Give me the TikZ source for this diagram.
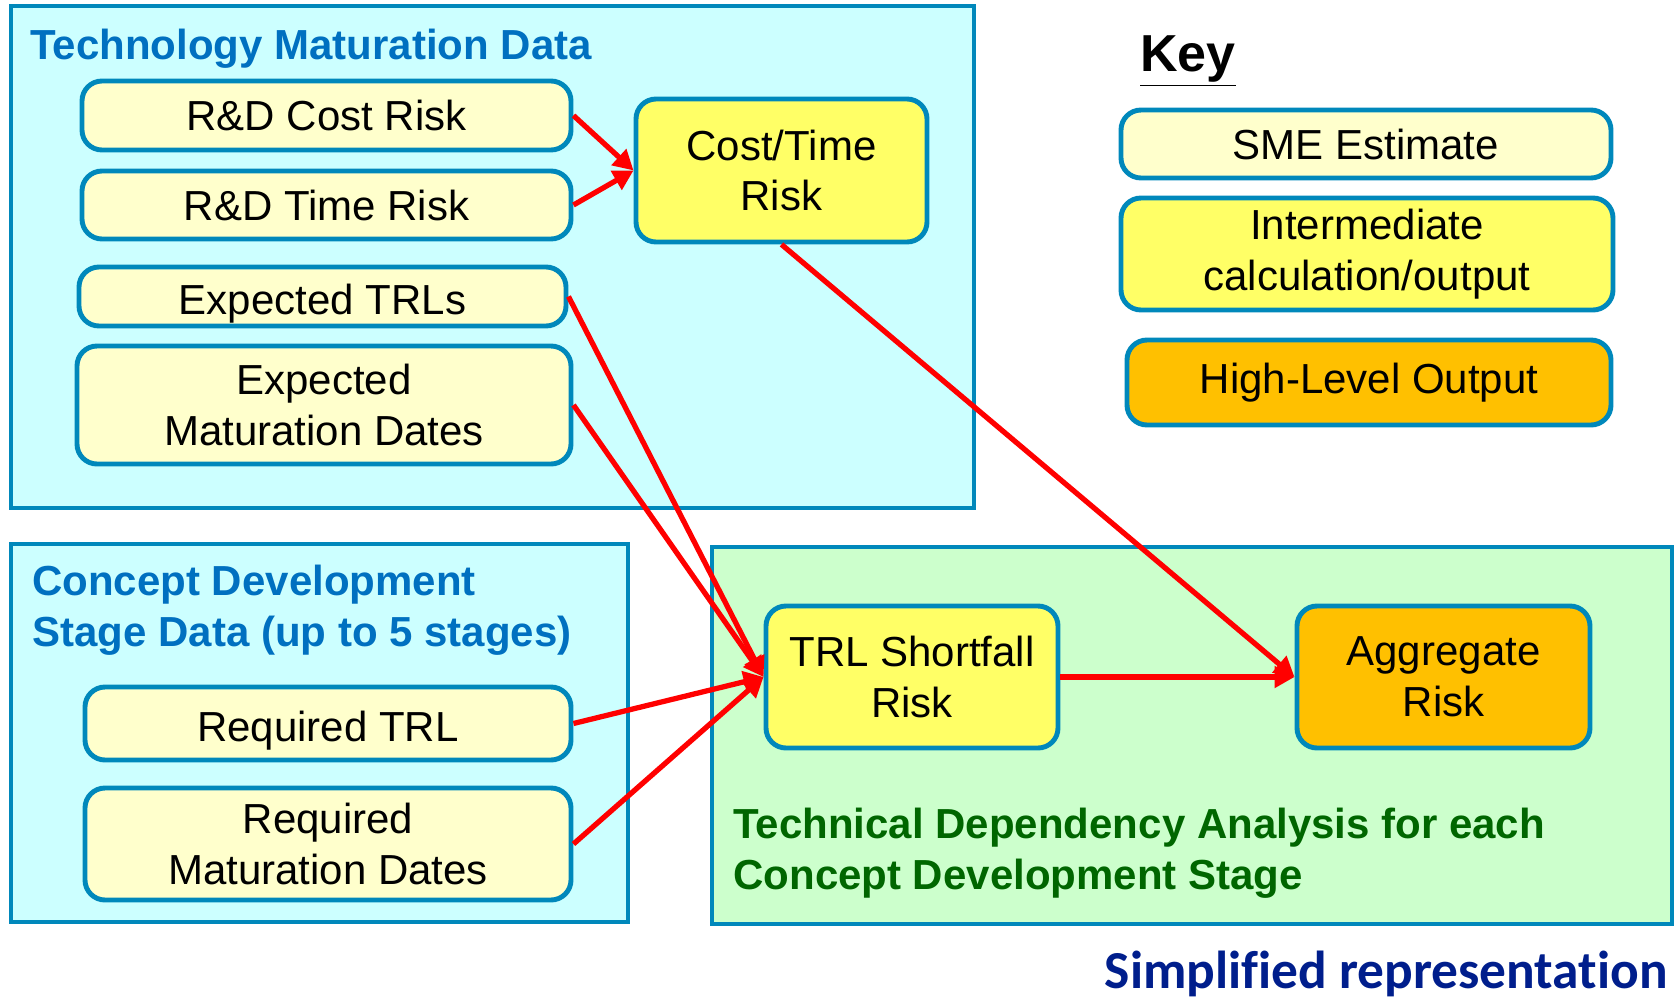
\documentclass[tikz,border=0pt]{standalone}
\usepackage{fontspec}
\setmainfont{Liberation Sans}
\newfontfamily\calibri[Ligatures=NoCommon]{Carlito}
\usetikzlibrary{arrows.meta}

\definecolor{edgeblue}{RGB}{0,136,187}
\definecolor{panelcyan}{RGB}{204,255,255}
\definecolor{panelgreen}{RGB}{204,255,204}
\definecolor{smeyellow}{RGB}{255,255,204}
\definecolor{interyellow}{RGB}{255,255,102}
\definecolor{highorange}{RGB}{255,192,0}
\definecolor{titleblue}{RGB}{0,112,192}
\definecolor{titlegreen}{RGB}{0,102,0}
\definecolor{notenavy}{RGB}{0,30,140}

\tikzset{
  panel/.style={draw=edgeblue, line width=2.2pt},
  box/.style={draw=edgeblue, line width=2.8pt, rounded corners=0.4cm, align=center,
    inner sep=0pt, font=\fontsize{23.9}{29}\selectfont},
  sme/.style={box, fill=smeyellow},
  inter/.style={box, fill=interyellow},
  high/.style={box, fill=highorange},
  lowtext/.style={text height=0.9cm, text depth=0.18cm},
  flow/.style={red, line width=3pt, -{Triangle[length=0.4cm, width=0.42cm]}},
  paneltitle/.style={anchor=west, align=left, inner sep=0pt,
    font=\bfseries\fontsize{23.9}{29}\selectfont}
}

\begin{document}
\begin{tikzpicture}
  \useasboundingbox (0, 0) rectangle (33.5, -20.06);

  % panels
  \draw[panel, fill=panelcyan] (0.22, -0.12) rectangle (19.48, -10.16);
  \draw[panel, fill=panelcyan] (0.22, -10.88) rectangle (12.56, -18.44);
  \draw[panel, fill=panelgreen] (14.24, -10.94) rectangle (33.44, -18.48);

  \node[paneltitle, titleblue] (techtitle) at (0.6, -0.98) {Technology Maturation Data};
  \node[paneltitle, titleblue] (cdstitle) at (0.64, -12.2)
    {Concept Development\\Stage Data (up to 5 stages)};
  \node[paneltitle, titlegreen] (tdatitle) at (14.66, -17.06)
    {Technical Dependency Analysis for each\\Concept Development Stage};

  % inputs
  \node[sme, minimum width=9.78cm, minimum height=1.38cm] (rdcost) at (6.53, -2.31) {R\&D Cost Risk};
  \node[sme, minimum width=9.78cm, minimum height=1.36cm] (rdtime) at (6.53, -4.10) {R\&D Time Risk};
  \node[sme, lowtext, minimum width=9.74cm, minimum height=1.18cm] (exptrl) at (6.45, -5.93) {Expected TRLs};
  \node[sme, minimum width=9.88cm, minimum height=2.36cm] (expdate) at (6.48, -8.10) {Expected\\Maturation Dates};
  \node[sme, lowtext, minimum width=9.72cm, minimum height=1.46cm] (reqtrl) at (6.56, -14.47) {Required TRL};
  \node[sme, minimum width=9.72cm, minimum height=2.24cm] (reqdate) at (6.56, -16.88) {Required\\Maturation Dates};

  % calculations
  \node[inter, minimum width=5.82cm, minimum height=2.86cm] (costtime) at (15.63, -3.41) {Cost/Time\\Risk};
  \node[inter, minimum width=5.84cm, minimum height=2.84cm] (shortfall) at (18.24, -13.54) {TRL Shortfall\\Risk};
  \node[high, minimum width=5.86cm, minimum height=2.84cm] (aggregate) at (28.87, -13.54) {Aggregate\\Risk};

  % key
  \node[anchor=west, inner sep=0pt, font=\bfseries\fontsize{29.6}{34}\selectfont] (keytitle) at (22.8, -1.22) {\underline{Key}};
  \node[sme, minimum width=9.8cm, minimum height=1.36cm] (keysme) at (27.32, -2.88) {SME Estimate};
  \node[inter, minimum width=9.84cm, minimum height=2.24cm] (keyinter) at (27.34, -5.08) {Intermediate\\calculation/output};
  \node[high, minimum width=9.68cm, minimum height=1.70cm] (keyhigh) at (27.38, -7.65) {High-Level Output};

  \node[anchor=east, inner sep=0pt, notenavy, font=\calibri\bfseries\fontsize{30.4}{36}\selectfont] (note)
    at (33.36, -19.48) {Simplified representation};

  % flows
  \draw[flow] (rdcost.east) -- (costtime.west);
  \draw[flow] (rdtime.east) -- (costtime.west);
  \draw[flow] (exptrl.east) -- (shortfall.west);
  \draw[flow] (expdate.east) -- (shortfall.west);
  \draw[flow] (reqtrl.east) -- (shortfall.west);
  \draw[flow] (reqdate.east) -- (shortfall.west);
  \draw[flow] (costtime.south) -- (aggregate.west);
  \draw[flow] (shortfall.east) -- (aggregate.west);
\end{tikzpicture}
\end{document}
